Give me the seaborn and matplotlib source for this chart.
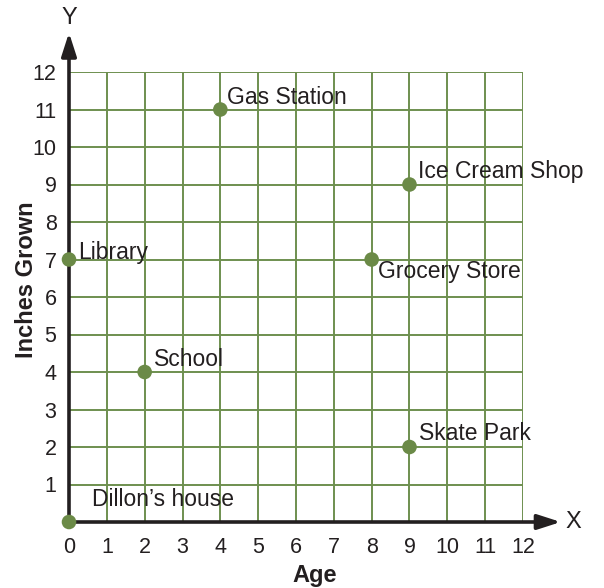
import matplotlib
matplotlib.use("Agg")
import matplotlib.pyplot as plt
import seaborn as sns
import pandas as pd

places = ["Dillon\u2019s house", "Library", "School", "Gas Station",
          "Grocery Store", "Ice Cream Shop", "Skate Park"]
age = [0, 0, 2, 4, 8, 9, 9]
inches = [0, 7, 4, 11, 7, 9, 2]
ticks = list(range(0, 13))

df = pd.DataFrame({"place": places, "Age": age, "Inches": inches})

sns.set_style("white")
plt.rcParams['font.family'] = ['Liberation Sans', 'DejaVu Sans']

fig = plt.figure(figsize=(6.04, 5.88), dpi=100)
ax = fig.add_axes([69/604, 1-522/588, 454/604, 450/588])

grid_c = "#6e8f4f"
pt_c = "#6b8a47"
ink = "#231f20"

ax.set_xlim(0, 12)
ax.set_ylim(0, 12)
for v in ticks[1:]:
    ax.axvline(v, color=grid_c, lw=1.4, zorder=1)
    ax.axhline(v, color=grid_c, lw=1.4, zorder=1)

for s in ax.spines.values():
    s.set_visible(False)

# axes with arrows
ax.annotate("", xy=(13.0, 0), xytext=(0, 0), annotation_clip=False,
            arrowprops=dict(arrowstyle="-|>,head_length=1.4,head_width=0.45",
                            color=ink, lw=2.6, shrinkA=0, shrinkB=0), zorder=3)
ax.annotate("", xy=(0, 13.05), xytext=(0, 0), annotation_clip=False,
            arrowprops=dict(arrowstyle="-|>,head_length=1.4,head_width=0.45",
                            color=ink, lw=2.6, shrinkA=0, shrinkB=0), zorder=3)
ax.text(13.32, 0, "X", fontsize=17, color=ink, ha="center", va="center")
ax.text(0, 13.45, "Y", fontsize=17, color=ink, ha="center", va="center")

sns.scatterplot(data=df, x="Age", y="Inches", ax=ax, color=pt_c, s=110,
                edgecolor="none", zorder=5, clip_on=False)

offsets = {
    "Dillon\u2019s house": (23, 22),
    "Library": (9, 7),
    "School": (9, 13),
    "Gas Station": (7, 12),
    "Grocery Store": (6, -12),
    "Ice Cream Shop": (9, 13),
    "Skate Park": (10, 13),
}
for p, x, y in zip(places, age, inches):
    dx, dy = offsets[p]
    ax.annotate(p, (x, y), xytext=(dx, dy), textcoords="offset pixels",
                fontsize=16.5, color=ink, ha="left", va="center", zorder=6)

ax.set_xticks(ticks)
ax.set_yticks(ticks[1:])
ax.set_xticklabels([str(t) for t in ticks])
ax.set_yticklabels([str(t) for t in ticks[1:]])
ax.tick_params(axis="both", length=0, labelsize=15.5, labelcolor=ink)
ax.tick_params(axis="x", pad=11)
ax.tick_params(axis="y", pad=9)

ax.set_xlabel("Age", fontsize=17, fontweight="bold", color=ink)
ax.set_ylabel("Inches Grown", fontsize=17, fontweight="bold", color=ink)
ax.xaxis.set_label_coords(0.542, -0.094)
ax.yaxis.set_label_coords(-0.068, 0.538)

fig.savefig("out.png", dpi=100)
